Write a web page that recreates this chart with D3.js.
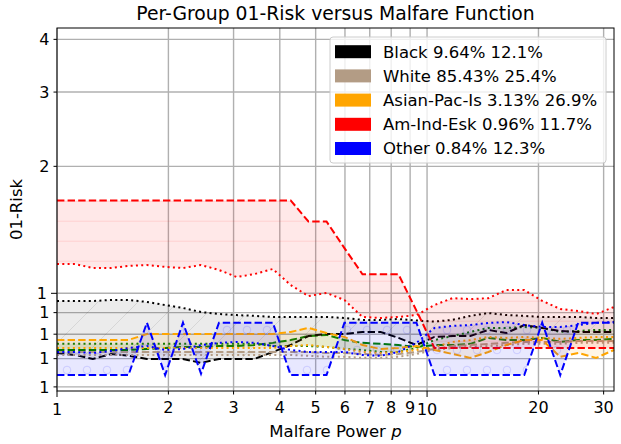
<!DOCTYPE html>
<html>
<head>
<meta charset="utf-8">
<style>
  body { margin: 0; background: white; }
  svg { font-family: 'DejaVu Sans', sans-serif; }
</style>
</head>
<body>
<svg width="621" height="444"></svg>

<script src="https://d3js.org/d3.v7.min.js"></script>
<script>
// malfare power p, sampled on a log grid from 1 to 32
let powers = [1.00, 1.12, 1.25, 1.40, 1.56, 1.75, 1.96, 2.19, 2.45, 2.74, 3.06, 3.42, 3.83, 4.28, 4.78, 5.35,
              5.98, 6.69, 7.48, 8.37, 9.36, 10.47, 11.71, 13.09, 14.64, 16.37, 18.31, 20.47, 22.90, 25.61, 28.64, 32.00]

// each group has a dashed series and a dotted series
let blackDash = [0.722, 0.714, 0.699, 0.718, 0.711, 0.699, 0.699, 0.699, 0.684, 0.699, 0.699, 0.699, 0.726, 0.754, 0.792, 0.801,
                 0.801, 0.810, 0.810, 0.784, 0.754, 0.788, 0.792, 0.792, 0.819, 0.805, 0.841, 0.828, 0.814, 0.810, 0.810, 0.810]
let blackDot = [0.959, 0.959, 0.959, 0.964, 0.964, 0.954, 0.938, 0.923, 0.903, 0.893, 0.888, 0.884, 0.879, 0.879, 0.879, 0.879,
                0.874, 0.865, 0.865, 0.869, 0.862, 0.857, 0.865, 0.884, 0.898, 0.888, 0.884, 0.879, 0.879, 0.879, 0.874, 0.874]

let whiteDash = [0.726, 0.726, 0.726, 0.726, 0.726, 0.726, 0.726, 0.726, 0.726, 0.726, 0.726, 0.726, 0.726, 0.726, 0.726, 0.722,
                 0.722, 0.718, 0.714, 0.718, 0.726, 0.738, 0.750, 0.754, 0.759, 0.763, 0.767, 0.767, 0.767, 0.771, 0.771, 0.771]
let whiteDot = [0.714, 0.714, 0.714, 0.714, 0.714, 0.714, 0.714, 0.714, 0.714, 0.714, 0.714, 0.714, 0.714, 0.714, 0.711, 0.707,
                0.707, 0.703, 0.703, 0.707, 0.718, 0.734, 0.742, 0.746, 0.750, 0.754, 0.759, 0.759, 0.759, 0.763, 0.763, 0.763]

let asianDash = [0.775, 0.775, 0.775, 0.775, 0.775, 0.801, 0.801, 0.801, 0.801, 0.801, 0.801, 0.801, 0.801, 0.810, 0.828, 0.805,
                 0.788, 0.754, 0.738, 0.742, 0.750, 0.734, 0.718, 0.703, 0.726, 0.754, 0.775, 0.775, 0.707, 0.722, 0.703, 0.734]
let asianDot = [0.742, 0.742, 0.742, 0.742, 0.742, 0.742, 0.742, 0.742, 0.742, 0.742, 0.742, 0.742, 0.742, 0.750, 0.754, 0.746,
                0.738, 0.726, 0.722, 0.726, 0.734, 0.746, 0.767, 0.775, 0.788, 0.784, 0.788, 0.784, 0.780, 0.784, 0.788, 0.788]

let amindDash = [1.66, 1.66, 1.66, 1.66, 1.66, 1.66, 1.66, 1.66, 1.66, 1.66, 1.66, 1.66, 1.66, 1.66, 1.48, 1.48,
                 1.28, 1.11, 1.11, 1.11, 0.91, 0.742, 0.742, 0.742, 0.742, 0.742, 0.742, 0.742, 0.742, 0.742, 0.742, 0.742]
let amindDot = [1.173, 1.173, 1.148, 1.148, 1.161, 1.167, 1.155, 1.148, 1.167, 1.136, 1.093, 1.111, 1.142, 1.046, 0.985, 1.002,
                0.964, 0.879, 0.874, 0.879, 0.888, 0.938, 0.974, 0.969, 0.974, 1.018, 1.018, 0.960, 0.918, 0.908, 0.893, 0.928]

let otherDash = [0.64, 0.64, 0.64, 0.64, 0.64, 0.852, 0.64, 0.852, 0.645, 0.852, 0.852, 0.852, 0.852, 0.64, 0.64, 0.64,
                 0.852, 0.852, 0.852, 0.852, 0.852, 0.64, 0.64, 0.64, 0.64, 0.64, 0.64, 0.852, 0.64, 0.852, 0.852, 0.852]
let otherDot = [0.726, 0.726, 0.722, 0.730, 0.742, 0.750, 0.734, 0.738, 0.754, 0.763, 0.767, 0.763, 0.750, 0.734, 0.726, 0.726,
                0.726, 0.714, 0.711, 0.726, 0.763, 0.828, 0.837, 0.841, 0.851, 0.855, 0.841, 0.832, 0.832, 0.841, 0.851, 0.855]

// overall population (green, not in legend)
let allDash = [0.734, 0.734, 0.734, 0.734, 0.734, 0.738, 0.742, 0.746, 0.746, 0.750, 0.750, 0.754, 0.763, 0.775, 0.792, 0.797,
               0.775, 0.763, 0.759, 0.754, 0.746, 0.754, 0.754, 0.759, 0.784, 0.775, 0.775, 0.784, 0.767, 0.775, 0.775, 0.780]
let allDot = [0.759, 0.759, 0.759, 0.759, 0.759, 0.759, 0.759, 0.759, 0.759, 0.759, 0.759, 0.759, 0.750, 0.750, 0.750, 0.746,
              0.738, 0.734, 0.726, 0.726, 0.742, 0.775, 0.792, 0.810, 0.828, 0.828, 0.832, 0.828, 0.810, 0.814, 0.819, 0.819]

let legendLabels = ["Black 9.64% 12.1%", "White 85.43% 25.4%", "Asian-Pac-Is 3.13% 26.9%", "Am-Ind-Esk 0.96% 11.7%", "Other 0.84% 12.3%"]
let legendColors = ["black", "#b39c85", "orange", "red", "blue"]

let xTicks = [1, 2, 3, 4, 5, 6, 7, 8, 9, 10, 20, 30]
let yTicks = [0.6, 0.7, 0.8, 0.9, 1, 2, 3, 4]

let groups = [
    { name: "all", color: "green", dash: allDash, dot: allDot, hatch: null },
    { name: "black", color: "black", dash: blackDash, dot: blackDot, hatch: "diag" },
    { name: "white", color: "#b39c85", dash: whiteDash, dot: whiteDot, hatch: null },
    { name: "asian", color: "orange", dash: asianDash, dot: asianDot, hatch: null },
    { name: "amind", color: "red", dash: amindDash, dot: amindDot, hatch: "horiz" },
    { name: "other", color: "blue", dash: otherDash, dot: otherDot, hatch: "circ" },
]

let mLeft = 57, mRight = 614, mTop = 28, mBottom = 391

let svg = d3.select("svg")

let x = d3.scaleLog().domain([1, 32]).range([mLeft, mRight])
let y = d3.scaleLog().domain([0.5867, 4.256]).range([mBottom, mTop])

// hatch patterns
let defs = svg.append("defs")

let pDiag = defs.append("pattern").attr("id", "hatch-black")
    .attr("patternUnits", "userSpaceOnUse").attr("width", 40).attr("height", 40)
pDiag.append("rect").attr("width", 40).attr("height", 40).attr("fill", "black").attr("fill-opacity", 0.08)
pDiag.append("path").attr("d", "M0,40 L40,0 M-10,10 L10,-10 M30,50 L50,30")
    .attr("stroke", "black").attr("stroke-opacity", 0.09).attr("stroke-width", 1)

let pHoriz = defs.append("pattern").attr("id", "hatch-amind")
    .attr("patternUnits", "userSpaceOnUse").attr("width", 20).attr("height", 20).attr("y", 0.7)
pHoriz.append("rect").attr("width", 20).attr("height", 20).attr("fill", "red").attr("fill-opacity", 0.09)
pHoriz.append("path").attr("d", "M0,0 L20,0")
    .attr("stroke", "red").attr("stroke-opacity", 0.1).attr("stroke-width", 2)

let pCirc = defs.append("pattern").attr("id", "hatch-other")
    .attr("patternUnits", "userSpaceOnUse").attr("width", 20).attr("height", 40).attr("x", 7).attr("y", 10)
pCirc.append("rect").attr("width", 20).attr("height", 40).attr("fill", "blue").attr("fill-opacity", 0.09)
pCirc.selectAll("circle")
    .data([[0, 0], [20, 0], [10, 20], [0, 40], [20, 40]])
    .join("circle")
    .attr("cx", d => d[0]).attr("cy", d => d[1]).attr("r", 3.8)
    .attr("fill", "none").attr("stroke", "blue").attr("stroke-opacity", 0.12).attr("stroke-width", 1)

// grid
let grid = svg.append("g")
grid.selectAll(".vg").data(xTicks).join("line")
    .attr("x1", d => x(d)).attr("x2", d => x(d)).attr("y1", mTop).attr("y2", mBottom)
    .attr("stroke", "#b0b0b0").attr("stroke-width", 1.4)
grid.selectAll(".hg").data(yTicks).join("line")
    .attr("x1", mLeft).attr("x2", mRight).attr("y1", d => y(d)).attr("y2", d => y(d))
    .attr("stroke", "#b0b0b0").attr("stroke-width", 1.4)

// fills and lines per group
let area = (g) => d3.area()
    .x((d, i) => x(powers[i]))
    .y0((d, i) => y(g.dash[i]))
    .y1((d, i) => y(g.dot[i]))

let line = d3.line().x((d, i) => x(powers[i])).y(d => y(d))

let plot = svg.append("g")
groups.forEach(g => {
    plot.append("path")
        .datum(powers)
        .attr("d", area(g))
        .attr("fill", g.hatch ? "url(#hatch-" + g.name + ")" : g.color)
        .attr("fill-opacity", g.hatch ? 1 : 0.1)
    plot.append("path")
        .datum(g.dash)
        .attr("d", line)
        .attr("fill", "none")
        .attr("stroke", g.color)
        .attr("stroke-width", 2)
        .attr("stroke-dasharray", "7.4,3.2")
    plot.append("path")
        .datum(g.dot)
        .attr("d", line)
        .attr("fill", "none")
        .attr("stroke", g.color)
        .attr("stroke-width", 2)
        .attr("stroke-dasharray", "2,3.3")
})

// frame
svg.append("rect")
    .attr("x", mLeft).attr("y", mTop).attr("width", mRight - mLeft).attr("height", mBottom - mTop)
    .attr("fill", "none").attr("stroke", "black").attr("stroke-width", 1)

// x ticks (1 and 10 are major)
let isMajorX = d => d == 1 || d == 10
let xt = svg.append("g").selectAll("g").data(xTicks).join("g")
xt.append("line")
    .attr("x1", d => x(d)).attr("x2", d => x(d))
    .attr("y1", mBottom).attr("y2", d => mBottom + (isMajorX(d) ? 6 : 3.5))
    .attr("stroke", "black")
xt.append("text")
    .attr("x", d => x(d))
    .attr("y", d => mBottom + (isMajorX(d) ? 6 : 3.5) + 6)
    .attr("dy", "0.76em")
    .attr("text-anchor", "middle")
    .style("font-size", "16px")
    .text(d => d)

// y ticks (only 1 is major); labels are rounded, as in the original
let yt = svg.append("g").selectAll("g").data(yTicks).join("g")
yt.append("line")
    .attr("y1", d => y(d)).attr("y2", d => y(d))
    .attr("x1", mLeft).attr("x2", d => mLeft - (d == 1 ? 6 : 3.5))
    .attr("stroke", "black")
yt.append("text")
    .attr("y", d => y(d))
    .attr("x", d => mLeft - (d == 1 ? 6 : 3.5) - 4)
    .attr("dy", "0.36em")
    .attr("text-anchor", "end")
    .style("font-size", "16px")
    .text(d => Math.round(d))

// titles
svg.append("text")
    .attr("x", (mLeft + mRight) / 2).attr("y", 20)
    .attr("text-anchor", "middle")
    .style("font-size", "18.8px")
    .text("Per-Group 01-Risk versus Malfare Function")

let xl = svg.append("text")
    .attr("x", (mLeft + mRight) / 2).attr("y", 437)
    .attr("text-anchor", "middle")
    .style("font-size", "16.5px")
xl.append("tspan").text("Malfare Power ")
xl.append("tspan").style("font-style", "italic").text("p")

svg.append("text")
    .attr("transform", "translate(22," + (mTop + mBottom) / 2 + ") rotate(-90)")
    .attr("text-anchor", "middle")
    .style("font-size", "16.5px")
    .text("01-Risk")

// legend
let lg = svg.append("g")
lg.append("rect")
    .attr("x", 330).attr("y", 37).attr("width", 276).attr("height", 126).attr("rx", 3)
    .attr("fill", "white").attr("fill-opacity", 0.8)
    .attr("stroke", "#cccccc")
let rowH = 24.2
lg.selectAll(".sw").data(legendLabels).join("rect")
    .attr("x", 335).attr("y", (d, i) => 51.7 + i * rowH - 6.5)
    .attr("width", 36).attr("height", 13)
    .attr("fill", (d, i) => legendColors[i])
lg.selectAll(".lb").data(legendLabels).join("text")
    .attr("x", 383).attr("y", (d, i) => 51.7 + i * rowH)
    .attr("dy", "0.36em")
    .style("font-size", "16.5px")
    .text(d => d)
</script>
</body>
</html>
